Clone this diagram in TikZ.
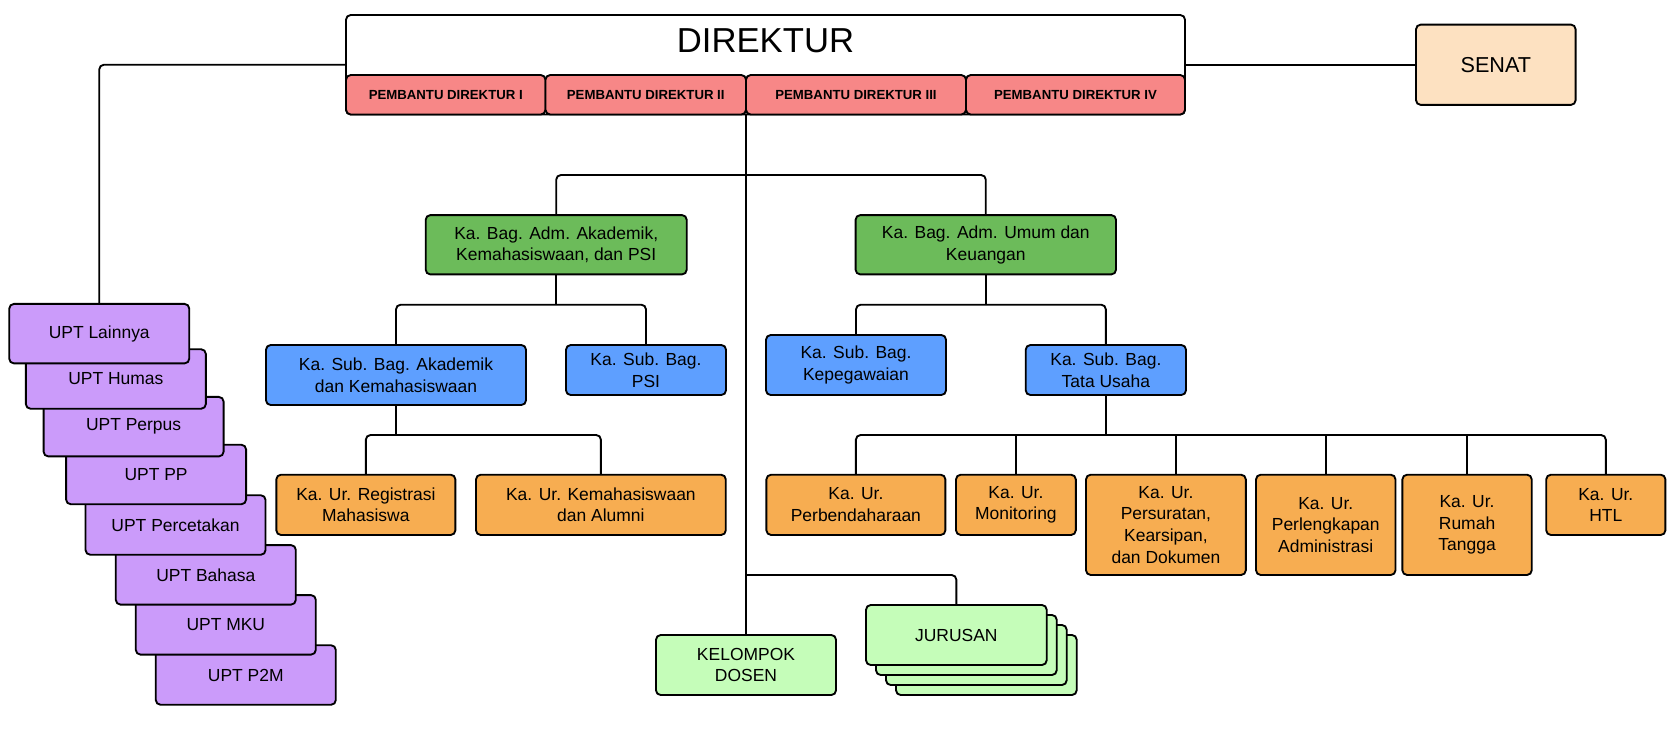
\documentclass[tikz,border=0pt]{standalone}
\usepackage{fontspec}
\setmainfont{Liberation Sans}
\usetikzlibrary{calc}
\definecolor{pbred}{HTML}{F78787}
\definecolor{grn}{HTML}{6CBB5A}
\definecolor{blu}{HTML}{5E9FFF}
\definecolor{org}{HTML}{F7AD51}
\definecolor{pur}{HTML}{CB9BFA}
\definecolor{lgr}{HTML}{C5FDB9}
\definecolor{pch}{HTML}{FDE1C1}
\tikzset{
  box/.style={draw=black, line width=1.4pt, rounded corners=3.5pt, inner sep=0pt, outer sep=0pt,
    align=center, font=\fontsize{13.1pt}{16.3pt}\selectfont},
  wh/.style 2 args={minimum width=#1, minimum height=#2},
  conn/.style={draw=black, line width=1.4pt, rounded corners=3.5pt},
  pbbox/.style={box, fill=pbred, font=\fontsize{9.9pt}{12pt}\selectfont\bfseries},
  grnbox/.style={box, fill=grn},
  blubox/.style={box, fill=blu},
  orgbox/.style={box, fill=org},
  uptbox/.style={box, fill=pur, wh={135pt}{44.6pt}},
  lgrbox/.style={box, fill=lgr},
}
\begin{document}
\begin{tikzpicture}[x=0.75pt,y=-0.75pt]
\useasboundingbox (0,0) rectangle (1676,732);
\fill[white] (0,0) rectangle (1676,732);

% Direktur
\node[box, fill=white, wh={629.25pt}{74.6pt}] (dirbox) at (765.5,64.75) {};
\node[inner sep=0pt, font=\fontsize{26pt}{30pt}\selectfont] (dirt) at (765.5,40.3) {DIREKTUR};
\node[pbbox, wh={149.6pt}{29.6pt}] (pb1) at (445.75,94.75) {PEMBANTU DIREKTUR I};
\node[pbbox, wh={150.4pt}{29.6pt}] (pb2) at (645.75,94.75) {PEMBANTU DIREKTUR II};
\node[pbbox, wh={165pt}{29.6pt}] (pb3) at (856,94.75) {PEMBANTU DIREKTUR III};
\node[pbbox, wh={164.25pt}{29.6pt}] (pb4) at (1075.5,94.75) {PEMBANTU DIREKTUR IV};

% Senat
\node[box, fill=pch, wh={119.7pt}{60.2pt}, font=\fontsize{16.2pt}{19pt}\selectfont] (senat) at (1495.8,64.75) {SENAT};

% Green
\node[grnbox, wh={195.75pt}{44.5pt}] (g1) at (556.2,244.75) {Ka. Bag. Adm. Akademik,\\Kemahasiswaan, dan PSI};
\node[grnbox, wh={195.3pt}{44.5pt}] (g2) at (985.8,244.75) {Ka. Bag. Adm. Umum dan\\Keuangan};

% Blue
\node[blubox, wh={195pt}{45pt}] (b1) at (396,375) {Ka. Sub. Bag. Akademik\\dan Kemahasiswaan};
\node[blubox, wh={120pt}{37.5pt}] (b2) at (646,370) {Ka. Sub. Bag.\\PSI};
\node[blubox, wh={135pt}{45pt}] (b3) at (856,365) {Ka. Sub. Bag.\\Kepegawaian};
\node[blubox, wh={120.2pt}{37.5pt}] (b4) at (1105.85,370) {Ka. Sub. Bag.\\Tata Usaha};

% Orange
\node[orgbox, wh={134.3pt}{45.2pt}] (o1) at (365.85,504.85) {Ka. Ur. Registrasi\\Mahasiswa};
\node[orgbox, wh={187.35pt}{45.2pt}] (o2) at (600.9,504.85) {Ka. Ur. Kemahasiswaan\\dan Alumni};
\node[orgbox, wh={134.25pt}{45.2pt}] (o3) at (855.9,504.85) {Ka. Ur.\\Perbendaharaan};
\node[orgbox, wh={89.85pt}{45.2pt}] (o4) at (1015.9,504.85) {Ka. Ur.\\Monitoring};
\node[orgbox, wh={119.85pt}{75.2pt}] (o5) at (1165.9,524.85) {Ka. Ur.\\Persuratan,\\Kearsipan,\\dan Dokumen};
\node[orgbox, wh={104.6pt}{75.2pt}] (o6) at (1325.75,524.85) {Ka. Ur.\\Perlengkapan\\Administrasi};
\node[orgbox, wh={97pt}{75.2pt}] (o7) at (1467.05,524.85) {Ka. Ur.\\Rumah\\Tangga};
\node[orgbox, wh={89.4pt}{45.2pt}] (o8) at (1605.8,504.85) {Ka. Ur.\\HTL};

% Kelompok dosen and jurusan
\node[lgrbox, wh={135pt}{45pt}] (kel) at (746,665) {KELOMPOK\\DOSEN};
\node[lgrbox, wh={135.5pt}{45pt}] (jur4) at (986.35,665) {};
\node[lgrbox, wh={135.5pt}{45pt}] (jur3) at (976.35,655) {};
\node[lgrbox, wh={135.5pt}{45pt}] (jur2) at (966.35,645) {};
\node[lgrbox, wh={135.5pt}{45pt}] (jur) at (956.35,635) {JURUSAN};

% UPT stack
\node[uptbox] (upt8) at (245.8,675) {UPT P2M};
\node[uptbox] (upt7) at (225.8,624.85) {UPT MKU};
\node[uptbox] (upt6) at (205.8,574.85) {UPT Bahasa};
\node[uptbox] (upt5) at (175.55,525) {UPT Percetakan};
\node[uptbox] (upt4) at (156.1,474.5) {UPT PP};
\node[uptbox] (upt3) at (133.6,426.65) {UPT Perpus};
\node[uptbox] (upt2) at (115.85,379) {UPT Humas};
\node[uptbox] (upt1) at (99.25,333.65) {UPT Lainnya};

% Connectors
\coordinate (j0) at (746,175);
\coordinate (j1) at (556.2,304.7);
\coordinate (j2) at (985.8,304.7);
\coordinate (j3) at (396,435);
\coordinate (j4) at (1105.85,435);
\coordinate (j5) at (746,575);

\draw[conn] (dirbox.west) -| (upt1.north);
\draw[conn] (dirbox.east) -- (senat.west);
\draw[conn] (pb3.south west) -- (kel.north);
\draw[conn] (g1.north) |- (j0) -| (g2.north);
\draw[conn] (g1.south) -- (j1);
\draw[conn] (b1.north) |- (j1) -| (b2.north);
\draw[conn] (g2.south) -- (j2);
\draw[conn] (b3.north) |- (j2) -| (b4.north);
\draw[conn] (b1.south) -- (j3);
\draw[conn] (o1.north) |- (j3) -| (o2.north);
\draw[conn] (b4.south) -- (j4);
\draw[conn] (o3.north) |- (j4) -| (o8.north);
\draw[conn] (o4.north) -- (o4.north |- j4);
\draw[conn] ([xshift=7.4pt]o5.north) -- ([xshift=7.4pt]o5.north |- j4);
\draw[conn] (o6.north) -- (o6.north |- j4);
\draw[conn] (o7.north) -- (o7.north |- j4);
\draw[conn] (j5) -| (jur.north);
\end{tikzpicture}
\end{document}
